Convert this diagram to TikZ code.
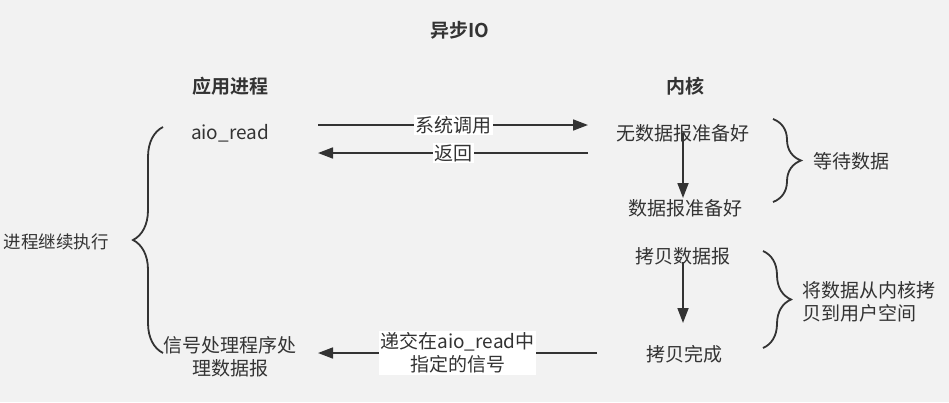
\documentclass[tikz,border=0pt]{standalone}
\usepackage{fontspec}
\setmainfont{Noto Sans CJK SC}[BoldFont={Noto Sans CJK SC Bold}]
\usetikzlibrary{arrows.meta,decorations.pathreplacing}
\definecolor{ink}{HTML}{333333}
\definecolor{paper}{HTML}{F2F2F2}

\begin{document}
\begin{tikzpicture}[x=1pt,y=-1pt,
    every node/.style={text=ink,font=\fontsize{19}{23}\selectfont,align=center,inner sep=1pt},
    flow/.style={draw=ink,line width=1.7pt,-{Triangle[length=15pt,width=11pt]}},
    lbl/.style={fill=white,inner sep=1.5pt},
    curly/.style={draw=ink,line width=1.8pt,decorate,decoration={brace,amplitude=#1}},
    head/.style={font=\bfseries\fontsize{19}{23}\selectfont}]
    \fill[paper] (0,0) rectangle (949,402);
    \useasboundingbox (0,0) rectangle (949,402);

    % titles
    \node[head] (title) at (460,30) {异步IO};
    \node[head] (app) at (230,86) {应用进程};
    \node[head] (kernel) at (685,86) {内核};

    % application side
    \node (aio) at (230,133) {aio\_read};
    \node (handler) at (230,357) {信号处理程序处\\理数据报};
    \node[anchor=east,font=\fontsize{17.5}{23}\selectfont] (goon) at (110,242) {进程继续执行};
    \draw[curly=30pt] (163,353) -- (163,127);

    % kernel side
    \node (nodata) at (683,133) {无数据报准备好};
    \node (ready) at (685,208) {数据报准备好};
    \node (copy) at (683,256) {拷贝数据报};
    \node (done) at (684,354) {拷贝完成};
    \node[anchor=west] (wait) at (812,161) {等待数据};
    \node[anchor=west,align=left] (tocopy) at (801,302) {将数据从内核拷\\贝到用户空间};
    \draw[curly=28pt] (773,119) -- (773,202);
    \draw[curly=28pt] (763,251) -- (763,348);

    \draw[flow] (nodata.center) -- (nodata.center |- ready.north);
    \coordinate (copyend) at (683,323);
    \draw[flow] (copy.center) ++(0,6) -- (copyend);

    % calls between the two
    \coordinate (callL) at (318,125);
    \coordinate (callR) at (588,125);
    \coordinate (retL) at (318,153);
    \coordinate (retR) at (588,153);
    \coordinate (sigL) at (318,353);
    \coordinate (sigR) at (597,353);
    \draw[flow] (callL) -- (callR) node[midway,lbl] (syscall) {系统调用};
    \draw[flow] (retR) -- (retL) node[midway,lbl] (ret) {返回};
    \draw[flow] (sigR) -- (sigL) node[midway,lbl,inner sep=2pt] (signal) {递交在aio\_read中\\指定的信号};
\end{tikzpicture}
\end{document}
